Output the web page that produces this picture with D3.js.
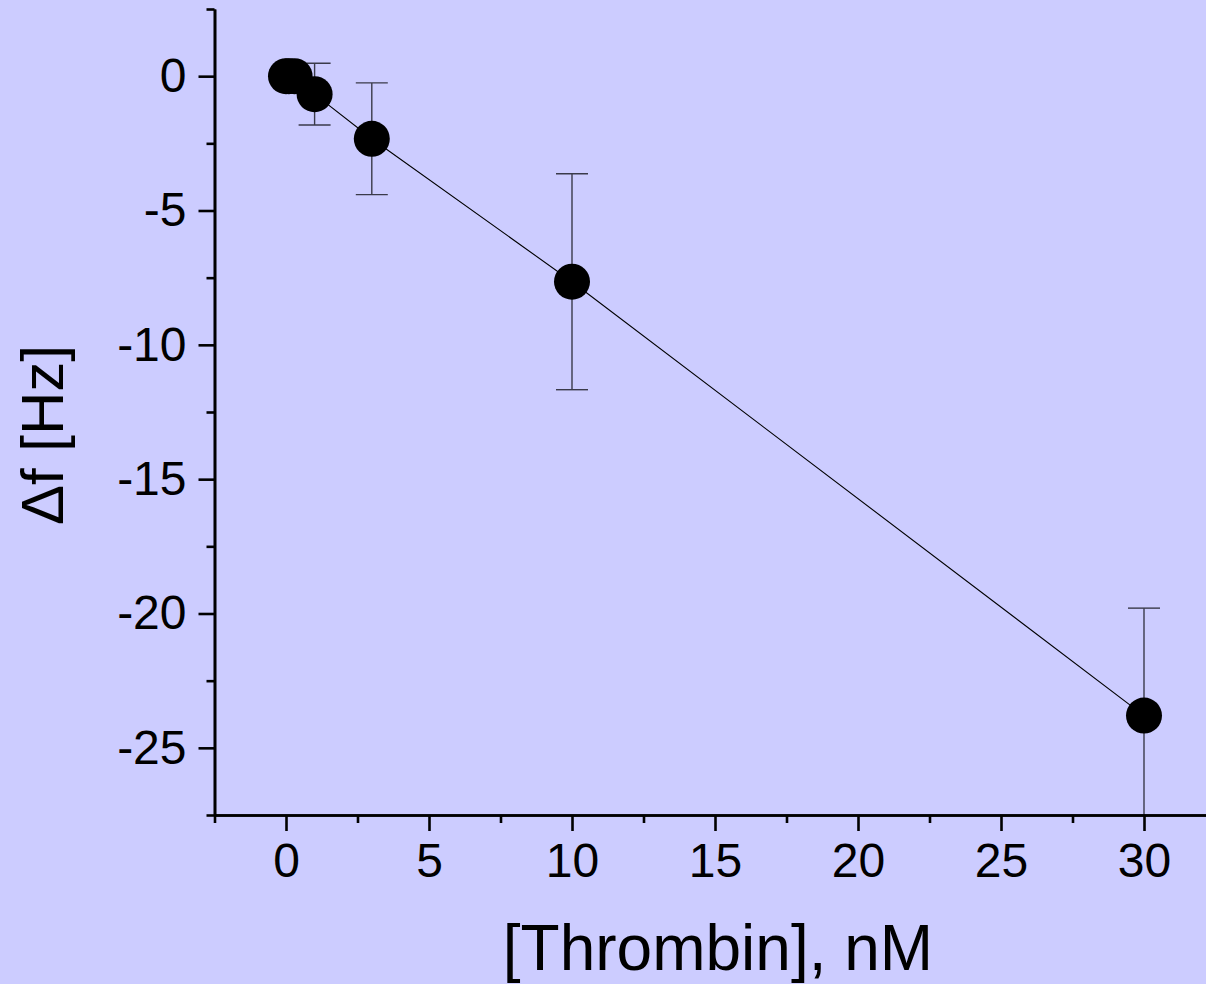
<!DOCTYPE html>
<html>
<head>
<meta charset="utf-8">
<script src="https://cdn.jsdelivr.net/npm/d3@7"></script>
<style>
  html, body { margin: 0; padding: 0; background: #ccccff; }
  svg { display: block; }
  text { font-family: "Liberation Sans", Arial, sans-serif; fill: #000; }
</style>
</head>
<body>
<svg id="chart" width="1206" height="984"></svg>
<script>
// ---- data ----
const concentrations = [0, 0.1, 0.3, 1, 3, 10, 30];          // [Thrombin], nM
const deltaF = [0, 0, 0, -0.67, -2.33, -7.65, -23.8];         // Δf [Hz]
const errors = [0, 0, 0, 1.15, 2.08, 4.02, 4.0];               // error bars (±)
const xTickValues = [0, 5, 10, 15, 20, 25, 30];
const xMinorTicks = [-2.5, 2.5, 7.5, 12.5, 17.5, 22.5, 27.5, 32.5];
const yTickValues = [0, -5, -10, -15, -20, -25];
const yMinorTicks = [2.5, -2.5, -7.5, -12.5, -17.5, -22.5, -27.5];
const xTitle = "[Thrombin], nM";
const yTitle = "Δf [Hz]";

const points = concentrations.map((c, i) => ({ x: c, y: deltaF[i], e: errors[i] }));

const svg = d3.select("#chart");
svg.append("rect").attr("width", 1206).attr("height", 984).attr("fill", "#ccccff");

const x = d3.scaleLinear().domain([-2.5, 32.5]).range([214.5, 1215.5]);
const y = d3.scaleLinear().domain([-27.5, 2.5]).range([815, 9]);

// clip
svg.append("clipPath").attr("id", "plotclip")
  .append("rect").attr("x", 214.5).attr("y", 9).attr("width", 1001).attr("height", 806);

const plot = svg.append("g").attr("clip-path", "url(#plotclip)");

// connecting line
plot.append("path")
  .datum(points)
  .attr("fill", "none")
  .attr("stroke", "#000")
  .attr("stroke-width", 1.1)
  .attr("d", d3.line().x(d => x(d.x)).y(d => y(d.y)));

// error bars
const eb = plot.selectAll("g.eb").data(points.filter(d => d.e > 0)).join("g").attr("class", "eb")
  .attr("stroke", "#3a3a4a").attr("stroke-width", 1.4);
eb.append("line")
  .attr("x1", d => x(d.x)).attr("x2", d => x(d.x))
  .attr("y1", d => y(d.y + d.e)).attr("y2", d => y(d.y - d.e));
eb.append("line")
  .attr("x1", d => x(d.x) - 16).attr("x2", d => x(d.x) + 16)
  .attr("y1", d => y(d.y + d.e)).attr("y2", d => y(d.y + d.e));
eb.append("line")
  .attr("x1", d => x(d.x) - 16).attr("x2", d => x(d.x) + 16)
  .attr("y1", d => y(d.y - d.e)).attr("y2", d => y(d.y - d.e));

// points
plot.selectAll("circle.pt").data(points).join("circle").attr("class", "pt")
  .attr("cx", d => x(d.x)).attr("cy", d => y(d.y)).attr("r", 18)
  .attr("fill", "#000");

// axes
function styleAxis(g) {
  g.selectAll("path.domain").attr("stroke", "#000").attr("stroke-width", 2.6);
  g.selectAll(".tick line").attr("stroke", "#000").attr("stroke-width", 2.6);
}

// x axis: minor then major
const xAxisMinor = svg.append("g").attr("transform", "translate(0,815)")
  .call(d3.axisBottom(x).tickValues(xMinorTicks).tickSize(8).tickSizeOuter(0).tickFormat(""));
styleAxis(xAxisMinor);
const xAxis = svg.append("g").attr("transform", "translate(0,815)")
  .call(d3.axisBottom(x).tickValues(xTickValues).tickSize(16).tickSizeOuter(0).tickPadding(12).tickFormat(d => String(d)));
styleAxis(xAxis);
xAxis.selectAll("text").attr("font-size", 48).attr("dy", "0.71em");

// y axis
const yAxisMinor = svg.append("g").attr("transform", "translate(214.5,0)")
  .call(d3.axisLeft(y).tickValues(yMinorTicks).tickSize(8).tickSizeOuter(0).tickFormat(""));
styleAxis(yAxisMinor);
const yAxis = svg.append("g").attr("transform", "translate(214.5,0)")
  .call(d3.axisLeft(y).tickValues(yTickValues).tickSize(16).tickSizeOuter(0).tickPadding(12).tickFormat(d => String(d)));
styleAxis(yAxis);
yAxis.selectAll("text").attr("font-size", 48);

// titles
svg.append("text")
  .attr("x", 718).attr("y", 970)
  .attr("text-anchor", "middle")
  .attr("font-size", 64)
  .text(xTitle);

svg.append("text")
  .attr("transform", "translate(63,435) rotate(-90)")
  .attr("text-anchor", "middle")
  .attr("font-size", 60)
  .text(yTitle);
</script>
</body>
</html>
